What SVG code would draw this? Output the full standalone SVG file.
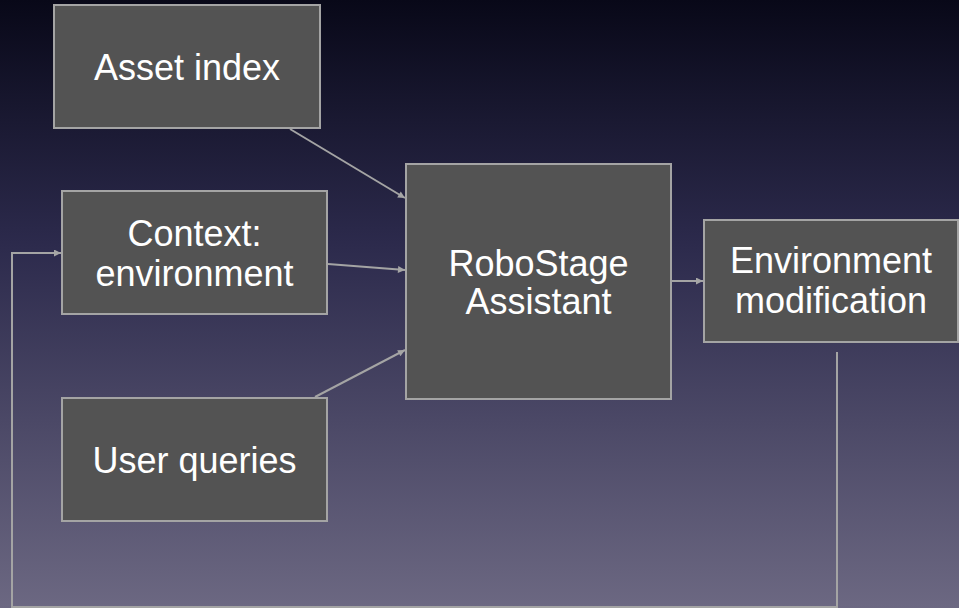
<svg xmlns="http://www.w3.org/2000/svg" width="959" height="608" viewBox="0 0 959 608">
<defs>
<linearGradient id="bg" x1="0" y1="0" x2="0" y2="1">
<stop offset="0" stop-color="#080818"/>
<stop offset="0.4" stop-color="#2c2a4c"/>
<stop offset="1" stop-color="#6c6882"/>
</linearGradient>
<marker id="ah" viewBox="0 0 10 10" refX="10" refY="5" markerWidth="9" markerHeight="7" markerUnits="userSpaceOnUse" orient="auto">
<path d="M0,0 L10,5 L0,10 z" fill="#a6a6a6"/>
</marker>
<style>
.box{fill:#535353;stroke:#a4a4a4;stroke-width:2}
.t{font-family:"Liberation Sans",Arial,sans-serif;font-size:36px;fill:#ffffff;text-anchor:middle}
.c{fill:none;stroke:#a4a4a4;stroke-width:2}
</style>
</defs>
<rect width="959" height="608" fill="url(#bg)"/>
<g id="connectors">
<line class="c" x1="290" y1="129" x2="405" y2="198" marker-end="url(#ah)"/>
<line class="c" x1="328" y1="264" x2="405" y2="270" marker-end="url(#ah)"/>
<line class="c" x1="315" y1="397" x2="405" y2="350" marker-end="url(#ah)"/>
<line class="c" x1="671" y1="281" x2="703" y2="281" marker-end="url(#ah)"/>
<polyline class="c" points="837,352 837,607 12,607 12,253 61,253" marker-end="url(#ah)"/>
</g>
<g id="asset-index">
<rect class="box" x="54" y="5" width="266" height="123"/>
<text class="t" x="187" y="80">Asset index</text>
</g>
<g id="context">
<rect class="box" x="62" y="191" width="265" height="123"/>
<text class="t" x="194.5" y="246">Context:</text>
<text class="t" x="194.5" y="286">environment</text>
</g>
<g id="user-queries">
<rect class="box" x="62" y="398" width="265" height="123"/>
<text class="t" x="194.5" y="473">User queries</text>
</g>
<g id="robostage">
<rect class="box" x="406" y="164" width="265" height="235"/>
<text class="t" x="538.5" y="276">RoboStage</text>
<text class="t" x="538.5" y="314">Assistant</text>
</g>
<g id="env-mod">
<rect class="box" x="704" y="220" width="254" height="122"/>
<text class="t" x="831" y="273">Environment</text>
<text class="t" x="831" y="313">modification</text>
</g>
</svg>
